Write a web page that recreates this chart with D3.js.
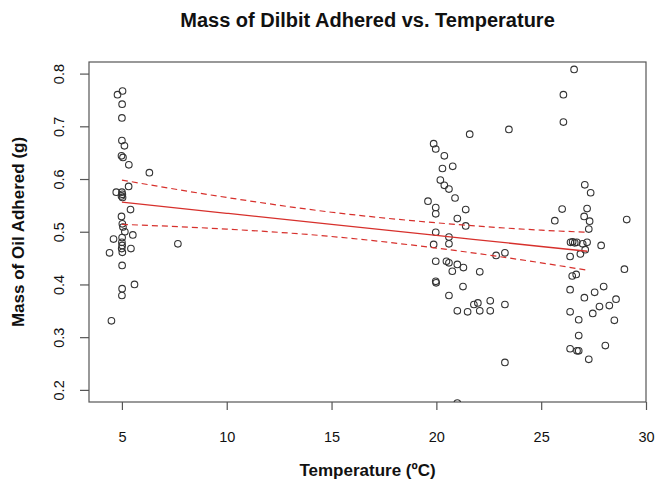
<!DOCTYPE html>
<html>
<head>
<meta charset="utf-8">
<script src="https://cdn.jsdelivr.net/npm/d3@7"></script>
<style>
  body { margin: 0; background: #fff; }
  svg text { font-family: "Liberation Sans", Arial, Helvetica, sans-serif; fill: #111; }
</style>
</head>
<body>
<svg id="chart" width="656" height="483"></svg>
<script>
// temperature (C) of each sample
const tempC = [
  4.79, 5.03, 5.01, 5.0, 5.0, 5.12, 4.98, 5.05, 5.33, 6.31,
  5.32, 4.73, 5.0, 5.02, 4.98, 5.03, 5.41, 4.98, 5.02, 5.05,
  5.14, 5.52, 4.6, 5.01, 5.0, 5.01, 4.99, 5.02, 5.43, 4.41,
  5.01, 5.6, 5.01, 5.0, 4.5, 7.67,
  21.59, 23.46, 19.87, 19.97, 20.38, 20.29, 20.78, 20.19, 20.38, 20.6,
  20.89, 19.6, 19.97, 19.97, 21.4, 21.0, 21.4, 19.97, 20.6, 20.6,
  19.87, 22.85, 23.27, 19.97, 20.48, 20.6, 21.0, 20.76, 21.29, 22.07,
  19.97, 19.99, 21.27, 20.6, 21.79, 21.98, 22.57, 23.27, 21.0, 21.49,
  22.07, 22.57, 23.27, 21.0,
  26.57, 26.06, 26.06, 27.08, 27.36, 26.0, 27.19, 25.65, 27.05, 27.31,
  29.08, 27.27, 26.4, 26.5, 26.6, 26.7, 26.98, 27.19, 27.86, 27.1,
  26.87, 26.38, 26.67, 26.48, 28.97, 26.38, 27.98, 27.55, 27.06, 28.57,
  28.25, 27.78, 26.38, 27.46, 26.79, 28.49, 26.79, 28.06, 26.38, 26.71,
  26.79, 27.27
];
// mass of oil adhered (g)
const massG = [
  0.760, 0.767, 0.742, 0.716, 0.673, 0.663, 0.644, 0.641, 0.627, 0.612,
  0.586, 0.575, 0.575, 0.571, 0.568, 0.565, 0.542, 0.529, 0.515, 0.509,
  0.500, 0.494, 0.486, 0.489, 0.480, 0.474, 0.468, 0.461, 0.468, 0.460,
  0.436, 0.400, 0.392, 0.379, 0.331, 0.477,
  0.685, 0.694, 0.667, 0.657, 0.644, 0.620, 0.624, 0.598, 0.588, 0.581,
  0.564, 0.558, 0.546, 0.534, 0.542, 0.525, 0.511, 0.499, 0.490, 0.477,
  0.476, 0.455, 0.460, 0.444, 0.444, 0.441, 0.438, 0.425, 0.432, 0.424,
  0.406, 0.403, 0.396, 0.379, 0.362, 0.365, 0.369, 0.362, 0.350, 0.348,
  0.350, 0.350, 0.252, 0.175,
  0.808, 0.760, 0.708, 0.589, 0.574, 0.543, 0.544, 0.521, 0.529, 0.520,
  0.523, 0.505, 0.480, 0.481, 0.479, 0.480, 0.477, 0.480, 0.474, 0.466,
  0.458, 0.453, 0.419, 0.416, 0.429, 0.390, 0.396, 0.385, 0.375, 0.372,
  0.360, 0.358, 0.348, 0.345, 0.333, 0.332, 0.303, 0.284, 0.278, 0.274,
  0.274, 0.258
];

// fitted line and its confidence band
const fitX   = [5, 10, 15, 20, 25, 27.2];
const fitY   = [0.556, 0.535, 0.514, 0.493, 0.472, 0.463];
const upperY = [0.598, 0.565, 0.537, 0.517, 0.503, 0.499];
const lowerY = [0.514, 0.505, 0.491, 0.469, 0.441, 0.427];

const xTicks = [5, 10, 15, 20, 25, 30];
const yTicks = [0.2, 0.3, 0.4, 0.5, 0.6, 0.7, 0.8];

const box = { left: 89, right: 646, top: 62, bottom: 402 };

const x = d3.scaleLinear().domain([3.43, 30]).range([box.left, box.right]);
const y = d3.scaleLinear().domain([0.177, 0.822]).range([box.bottom, box.top]);

const svg = d3.select("#chart");

svg.append("defs").append("clipPath")
    .attr("id", "plot-clip")
  .append("rect")
    .attr("x", box.left)
    .attr("y", box.top)
    .attr("width", box.right - box.left)
    .attr("height", box.bottom - box.top);

// title
svg.append("text")
    .attr("x", (box.left + box.right) / 2)
    .attr("y", 27)
    .attr("text-anchor", "middle")
    .style("font-size", "20px")
    .style("font-weight", "bold")
    .text("Mass of Dilbit Adhered vs. Temperature");

// x axis
const xAxis = d3.axisBottom(x).tickValues(xTicks).tickSize(8).tickPadding(22)
    .tickFormat(d3.format("d"));
const gx = svg.append("g")
    .attr("transform", `translate(0,${box.bottom})`)
    .call(xAxis);
gx.select(".domain").remove();
gx.selectAll("line").attr("stroke", "#555").attr("stroke-width", 1.2);
gx.selectAll("text").style("font-size", "14.5px").attr("fill", "#111")
    .style("font-family", "'Liberation Sans', Arial, sans-serif");

// y axis, R style with rotated labels
const yAxis = d3.axisLeft(y).tickValues(yTicks).tickSize(9).tickFormat(d3.format(".1f"));
const gy = svg.append("g")
    .attr("transform", `translate(${box.left},0)`)
    .call(yAxis);
gy.select(".domain").remove();
gy.selectAll("line").attr("stroke", "#555").attr("stroke-width", 1.2);
gy.selectAll("text")
    .attr("x", 0).attr("dy", null)
    .attr("text-anchor", "middle")
    .attr("transform", "translate(-25,0) rotate(-90)")
    .style("font-size", "14.5px").attr("fill", "#111")
    .style("font-family", "'Liberation Sans', Arial, sans-serif");

// plot box
svg.append("rect")
    .attr("x", box.left)
    .attr("y", box.top)
    .attr("width", box.right - box.left)
    .attr("height", box.bottom - box.top)
    .attr("fill", "none")
    .attr("stroke", "#555")
    .attr("stroke-width", 1.2);

// axis titles
svg.append("text")
    .attr("x", (box.left + box.right) / 2)
    .attr("y", 476)
    .attr("text-anchor", "middle")
    .style("font-size", "17px")
    .style("font-weight", "bold")
    .text("Temperature (ºC)");

svg.append("text")
    .attr("transform", `translate(24,${(box.top + box.bottom) / 2}) rotate(-90)`)
    .attr("text-anchor", "middle")
    .style("font-size", "17px")
    .style("font-weight", "bold")
    .text("Mass of Oil Adhered (g)");

const plot = svg.append("g").attr("clip-path", "url(#plot-clip)");

// points
plot.selectAll("circle")
    .data(tempC.map((t, i) => [t, massG[i]]))
    .join("circle")
    .attr("cx", d => x(d[0]))
    .attr("cy", d => y(d[1]))
    .attr("r", 3.3)
    .attr("fill", "none")
    .attr("stroke", "#333")
    .attr("stroke-width", 1.1);

// regression line and band
const lineOf = ys => d3.line().curve(d3.curveMonotoneX)
    .x((d, i) => x(fitX[i]))
    .y(d => y(d))(ys);

plot.append("path")
    .attr("d", lineOf(fitY))
    .attr("fill", "none")
    .attr("stroke", "#d7302c")
    .attr("stroke-width", 1.3);

[upperY, lowerY].forEach(band => {
    plot.append("path")
        .attr("d", lineOf(band))
        .attr("fill", "none")
        .attr("stroke", "#d7302c")
        .attr("stroke-width", 1.2)
        .attr("stroke-dasharray", "6,4");
});
</script>
</body>
</html>
